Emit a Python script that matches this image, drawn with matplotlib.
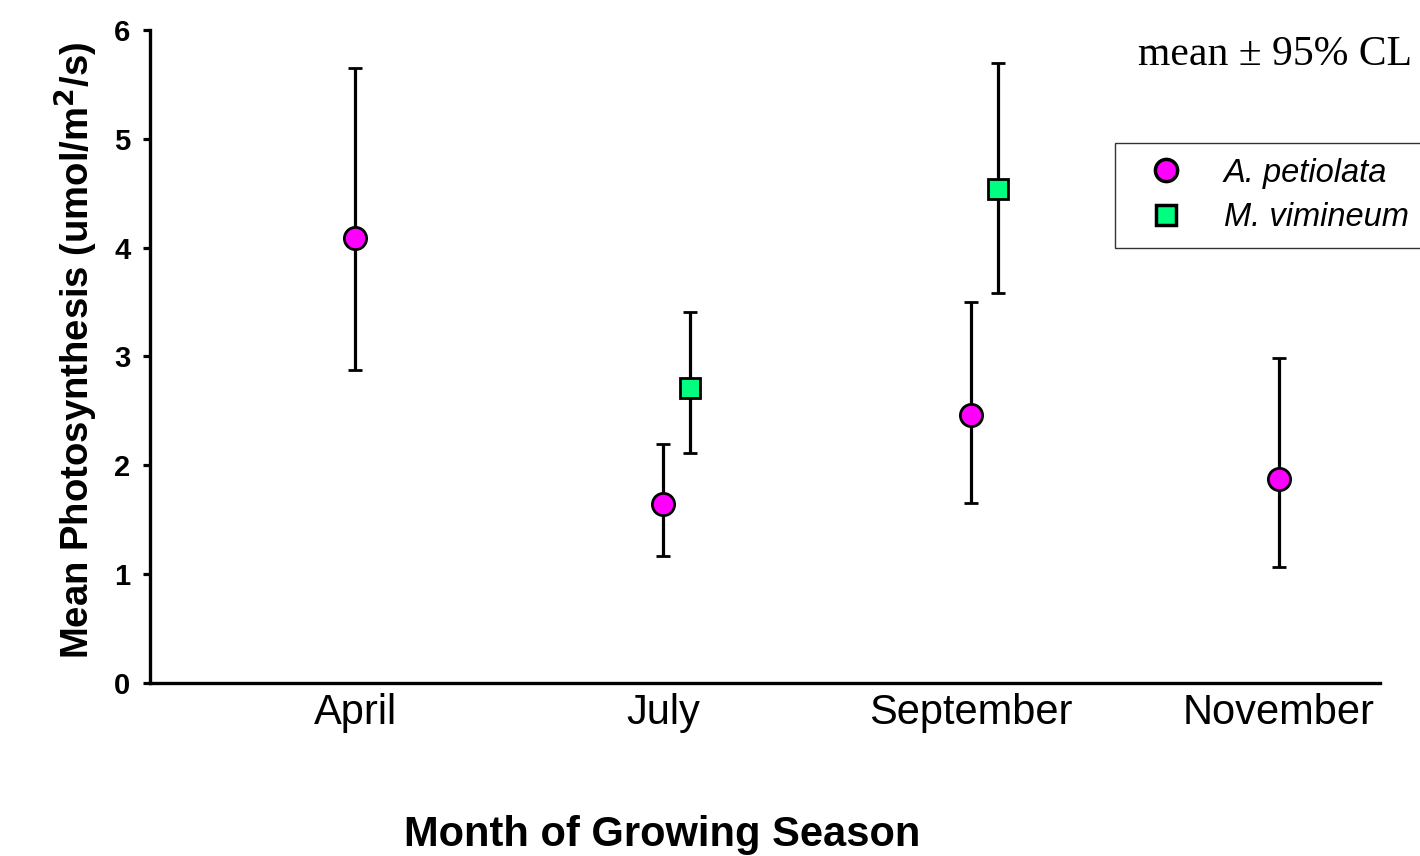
import matplotlib.pyplot as plt
import numpy as np
from matplotlib.lines import Line2D

# Sampling months and species
months = ['April', 'July', 'September', 'November']

# A. petiolata: mean and 95% confidence limits (all four months)
ap_mean = [4.09, 1.645, 2.46, 1.875]
ap_upper = [5.65, 2.20, 3.50, 2.99]
ap_lower = [2.88, 1.17, 1.65, 1.07]

# M. vimineum: measured only in July and September
mv_months = ['July', 'September']
mv_mean = [2.71, 4.54]
mv_upper = [3.41, 5.70]
mv_lower = [2.11, 3.58]

AP_COLOR = '#FF00FF'
MV_COLOR = '#00FF80'


def main():
    plt.rcParams['font.family'] = ['Liberation Sans', 'DejaVu Sans']

    fig = plt.figure(figsize=(14.2, 8.56), dpi=100)
    ax = fig.add_axes([0.1056, 0.2021, 0.8662, 0.7629])

    x_ap = np.arange(len(months))
    x_mv = np.array([months.index(m) for m in mv_months]) + 0.088

    ap_mean_a = np.array(ap_mean)
    ap_err = [ap_mean_a - np.array(ap_lower), np.array(ap_upper) - ap_mean_a]
    mv_mean_a = np.array(mv_mean)
    mv_err = [mv_mean_a - np.array(mv_lower), np.array(mv_upper) - mv_mean_a]

    err_kw = dict(ecolor='black', elinewidth=2.3, capsize=5, capthick=2.3, linestyle='none')
    ax.errorbar(x_ap, ap_mean, yerr=ap_err, marker='o', markersize=16,
                markerfacecolor=AP_COLOR, markeredgecolor='black', markeredgewidth=2,
                zorder=3, **err_kw)
    ax.errorbar(x_mv, mv_mean, yerr=mv_err, marker='s', markersize=15,
                markerfacecolor=MV_COLOR, markeredgecolor='black', markeredgewidth=2,
                zorder=3, **err_kw)

    ax.set_xlim(-0.666, 3.328)
    ax.set_ylim(0, 6)
    ax.set_yticks(range(0, 7))
    ax.set_xticks(x_ap)
    ax.set_xticklabels(months, fontsize=30)
    ax.tick_params(axis='x', length=0, pad=7)
    ax.tick_params(axis='y', direction='out', length=5, width=2.3, pad=9, labelsize=21)
    for lbl in ax.get_yticklabels():
        lbl.set_fontweight('bold')

    for side in ['top', 'right']:
        ax.spines[side].set_visible(False)
    for side in ['left', 'bottom']:
        ax.spines[side].set_linewidth(2.4)

    ax.set_ylabel('Mean Photosynthesis (umol/m$^\\mathbf{2}$/s)', fontsize=27.5,
                  fontweight='bold')
    ax.yaxis.set_label_coords(-0.041, 0.51)
    fig.text(662 / 1420, 1 - 835 / 856, 'Month of Growing Season', fontsize=30,
             fontweight='bold', ha='center', va='center')

    fig.text(1138 / 1420, 1 - 65 / 856, 'mean \u00b1 95% CL', fontsize=30,
             family=['Liberation Serif', 'DejaVu Serif'], ha='left', va='baseline')

    # marker-only handles so the legend shows no error bars
    handles = [
        Line2D([], [], linestyle='none', marker='o', markersize=16,
               markerfacecolor=AP_COLOR, markeredgecolor='black', markeredgewidth=2.5),
        Line2D([], [], linestyle='none', marker='s', markersize=15,
               markerfacecolor=MV_COLOR, markeredgecolor='black', markeredgewidth=2.5),
    ]
    leg = ax.legend(handles, ['A. petiolata', 'M. vimineum'], loc='upper left',
                    bbox_to_anchor=(1115 / 1420, 1 - 143 / 856),
                    bbox_transform=fig.transFigure,
                    prop={'style': 'italic', 'size': 23.5}, frameon=True, fancybox=False,
                    edgecolor='#333333', framealpha=1, borderaxespad=0,
                    handletextpad=0.66, labelspacing=0.42, borderpad=0.45,
                    handlelength=2.23)
    leg.get_frame().set_linewidth(1.0)

    fig.savefig('out.png', dpi=100)


if __name__ == '__main__':
    main()
